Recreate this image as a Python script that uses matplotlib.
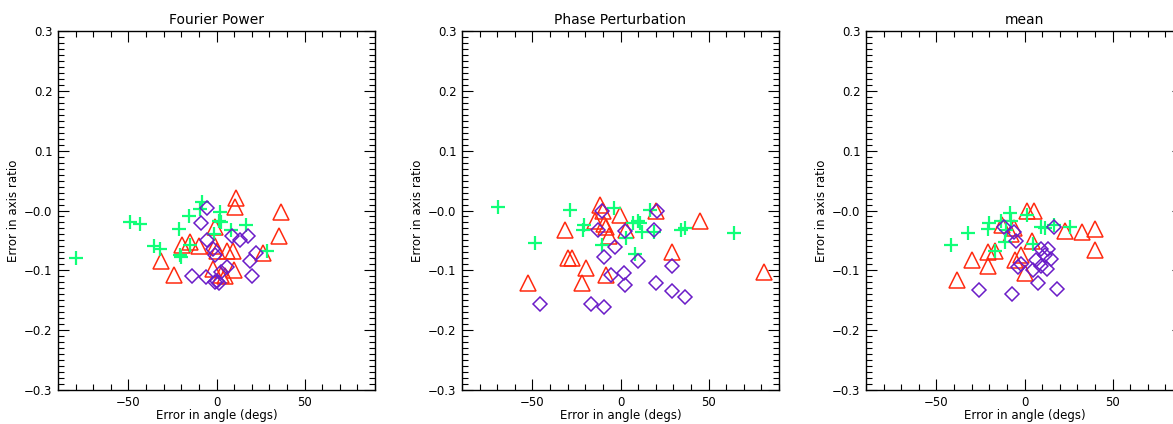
import numpy as np
import matplotlib.pyplot as plt
from matplotlib.ticker import MultipleLocator, FixedLocator, FixedFormatter

# ------------------------------
# Data (angle error, axis ratio error)
# ------------------------------
titles = ["Fourier Power", "Phase Perturbation", "mean"]

# Fourier Power
fp_tri_x = [11.0, 10.4, 36.4, 35.4, -0.9, -19.5, -14.8, -10.0, -0.6, 0.0, 6.1, 9.5, 26.5, -31.4, -23.9, -2.1, 9.8, 2.3, 5.1]
fp_tri_y = [0.021, 0.006, -0.003, -0.043, -0.028, -0.058, -0.053, -0.060, -0.060, -0.067, -0.068, -0.068, -0.071, -0.084, -0.108, -0.097, -0.100, -0.108, -0.110]
fp_plus_x = [-8.1, -9.1, 1.9, -15.7, 1.3, 2.3, -48.9, -43.6, -21.4, 8.0, 17.0, -35.6, -32.2, -14.8, -20.5, -79.5, 28.8, -1.5, -20.0]
fp_plus_y = [0.015, 0.003, -0.003, -0.010, -0.017, -0.019, -0.019, -0.022, -0.031, -0.033, -0.025, -0.060, -0.064, -0.058, -0.075, -0.079, -0.067, -0.039, -0.078]
fp_dia_x = [-5.3, -8.7, -5.3, -1.9, -1.1, 8.9, 13.3, 17.8, 22.5, 18.9, 20.3, -13.8, -5.7, 0.0, 1.3, 2.3, 6.1, -0.6]
fp_dia_y = [0.004, -0.021, -0.049, -0.064, -0.075, -0.042, -0.049, -0.042, -0.071, -0.084, -0.109, -0.109, -0.111, -0.117, -0.121, -0.103, -0.094, -0.119]

# Phase Perturbation
pp_tri_x = [-11.4, -10.0, -14.4, -0.4, -9.1, -8.1, -6.8, -31.4, 20.3, 3.4, 44.9, 29.2, -29.9, -27.7, -19.5, -8.1, -22.0, -52.7, 81.4]
pp_tri_y = [0.010, -0.001, -0.017, -0.008, -0.022, -0.027, -0.042, -0.033, 0.000, -0.033, -0.018, -0.069, -0.079, -0.079, -0.096, -0.107, -0.122, -0.122, -0.103]
pp_plus_x = [-69.7, -28.4, -48.5, -20.8, -21.4, -3.8, 16.5, 9.8, 10.8, 12.1, 19.3, 3.2, -10.6, 8.3, 34.1, 36.4, 64.4, 7.0]
pp_plus_y = [0.006, 0.001, -0.054, -0.025, -0.033, 0.004, 0.001, -0.017, -0.021, -0.036, -0.036, -0.046, -0.058, -0.073, -0.033, -0.029, -0.037, -0.021]
pp_dia_x = [-10.6, -12.9, 2.7, 20.8, 19.3, -3.4, -9.5, 10.2, 29.2, -5.3, 1.9, 2.3, 19.9, 29.2, 36.4, -45.5, -16.7, -9.1]
pp_dia_y = [0.000, -0.032, -0.034, -0.001, -0.033, -0.061, -0.078, -0.084, -0.093, -0.108, -0.104, -0.125, -0.122, -0.134, -0.144, -0.156, -0.157, -0.161]

# mean
mn_tri_x = [1.5, 5.3, -12.9, -5.7, -7.6, 23.1, 32.6, 39.8, 40.2, 4.2, -20.5, -16.7, -29.9, -20.8, -1.9, -5.3, 0.4, -38.3]
mn_tri_y = [-0.001, 0.000, -0.025, -0.029, -0.039, -0.034, -0.036, -0.031, -0.066, -0.051, -0.069, -0.068, -0.082, -0.092, -0.075, -0.083, -0.104, -0.116]
mn_plus_x = [-8.5, 1.5, -19.9, -20.8, -13.6, -7.6, -31.8, -41.7, 9.1, 11.4, 17.0, 26.1, -16.7, -11.0, 4.7, -10.4]
mn_plus_y = [-0.004, -0.008, -0.021, -0.031, -0.017, -0.017, -0.038, -0.057, -0.027, -0.029, -0.025, -0.027, -0.067, -0.053, -0.056, -0.033]
mn_dia_x = [-11.7, -6.1, -4.7, 17.0, 9.5, 13.6, 11.4, 15.2, 6.6, 9.5, 12.5, -1.9, -3.8, 4.7, 7.6, 18.6, -25.6, -7.2]
mn_dia_y = [-0.027, -0.036, -0.051, -0.027, -0.064, -0.064, -0.075, -0.081, -0.083, -0.092, -0.097, -0.090, -0.094, -0.100, -0.121, -0.132, -0.133, -0.139]

panels = [
    (fp_tri_x, fp_tri_y, fp_plus_x, fp_plus_y, fp_dia_x, fp_dia_y),
    (pp_tri_x, pp_tri_y, pp_plus_x, pp_plus_y, pp_dia_x, pp_dia_y),
    (mn_tri_x, mn_tri_y, mn_plus_x, mn_plus_y, mn_dia_x, mn_dia_y),
]

y_ticks = [0.3, 0.2, 0.1, 0.0, -0.1, -0.2, -0.3]
y_labels = ["0.3", "0.2", "0.1", "\u22120.0", "\u22120.1", "\u22120.2", "\u22120.3"]
x_ticks = [-50, 0, 50]
x_labels = ["\u221250", "0", "50"]

red = "#ff2a10"
green = "#10ff78"
purple = "#6a1cc8"

# ------------------------------
# Plot
# ------------------------------
W, H = 1173, 424
fig = plt.figure(figsize=(W / 100, H / 100), dpi=100)
lefts = [58, 462, 866]

for i, (tx, ty, px, py, dx, dy) in enumerate(panels):
    ax = fig.add_axes([lefts[i] / W, 34 / H, 317 / W, 359 / H])
    ax.plot(tx, ty, ls="none", marker="^", ms=11, mfc="none", mec=red, mew=1.1)
    ax.plot(px, py, ls="none", marker="+", ms=10, mec=green, mew=1.6)
    ax.plot(dx, dy, ls="none", marker="D", ms=7.5, mfc="none", mec=purple, mew=1.1)

    ax.set_xlim(-90, 90)
    ax.set_ylim(-0.3, 0.3)
    ax.xaxis.set_major_locator(FixedLocator(x_ticks))
    ax.xaxis.set_major_formatter(FixedFormatter(x_labels))
    ax.yaxis.set_major_locator(FixedLocator(y_ticks))
    ax.yaxis.set_major_formatter(FixedFormatter(y_labels))
    ax.xaxis.set_minor_locator(MultipleLocator(10))
    ax.yaxis.set_minor_locator(MultipleLocator(0.01))
    ax.tick_params(which="both", direction="in", top=True, right=True, labelsize=8.5, width=0.8)
    ax.tick_params(axis="x", pad=4)
    ax.tick_params(axis="y", pad=4)
    ax.tick_params(which="major", length=8)
    ax.tick_params(which="minor", length=4)
    for s in ax.spines.values():
        s.set_linewidth(1.0)
    ax.set_title(titles[i], fontsize=10, pad=5)
    ax.set_xlabel("Error in angle (degs)", fontsize=8.5, labelpad=0)
    ax.set_ylabel("Error in axis ratio", fontsize=8.5, labelpad=3)

plt.savefig("out.png", dpi=100)
